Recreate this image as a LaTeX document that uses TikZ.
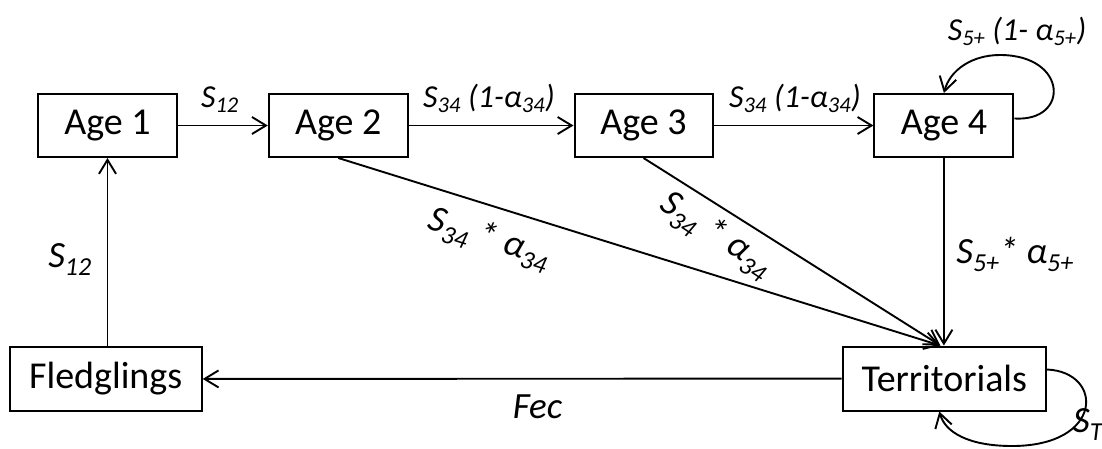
\documentclass[tikz,border=0pt]{standalone}
\usepackage{fontspec}
\setmainfont{Carlito}
\usetikzlibrary{arrows.meta}
\newcommand{\mysub}[1]{\textsubscript{#1}}
\begin{document}
\begin{tikzpicture}[x=1pt,y=-1pt,
  box/.style={draw,line width=2pt,inner sep=0pt,font=\fontsize{38}{44}\selectfont},
  conn/.style={line width=1.9pt,-{Straight Barb[length=14pt,width=17pt,line width=1.9pt]}},
  smalllab/.style={font=\fontsize{32}{36}\selectfont\itshape,inner sep=0pt},
  biglab/.style={font=\fontsize{37}{42}\selectfont\itshape,inner sep=0pt}]
\useasboundingbox (0,0) rectangle (1102,448);
\node[box,minimum width=139pt,minimum height=63pt] (a1) at (107.5,125.5) {Age 1};
\node[box,minimum width=139pt,minimum height=63pt] (a2) at (338.3,125.5) {Age 2};
\node[box,minimum width=138pt,minimum height=63pt] (a3) at (643.5,125.5) {Age 3};
\node[box,minimum width=139pt,minimum height=63pt] (a4) at (943.9,125.5) {Age 4};
\node[box,minimum width=192pt,minimum height=64pt] (fl) at (105.7,379) {Fledglings};
\node[box,minimum width=203.5pt,minimum height=64pt] (te) at (944.3,378.5) {Territorials};
\coordinate (tetop) at ([xshift=-4pt]te.north);
\coordinate (a4loop) at ([yshift=7pt]a4.east);
\coordinate (teloop) at ([yshift=9pt]te.east);
\coordinate (tebot) at ([xshift=-5pt]te.south);
% connectors
\draw[conn] (a1) -- (a2);
\draw[conn] (a2) -- (a3);
\draw[conn] (a3) -- (a4);
\draw[conn] (a1.south |- fl.north) -- (a1.south);
\draw[conn] (te) -- (fl);
\draw[conn] (a4) -- (a4 |- te.north);
\draw[conn] (a2.south) -- (tetop);
\draw[conn] (a3.south) -- (tetop);
\draw[conn] (a4loop) .. controls (1070,122) and (1068,55) .. (1000,55) .. controls (972,55) and (950,70) .. (a4.north);
\draw[conn] (teloop) .. controls (1104,372) and (1104,446) .. (1012,446) .. controls (968,446) and (945,432) .. (tebot);
% labels
\node[smalllab,anchor=base] (l1) at (220,107) {S\mysub{12}};
\node[smalllab,anchor=base] (l2) at (489,107) {S\mysub{34} (1-α\mysub{34})};
\node[smalllab,anchor=base] (l3) at (795,107) {S\mysub{34} (1-α\mysub{34})};
\node[smalllab,anchor=base] (l4) at (1017,40) {S\mysub{5+} (1- α\mysub{5+})};
\node[biglab,anchor=base] (l5) at (70,267) {S\mysub{12}};
\node[biglab,anchor=base] (l6) at (1015,263) {S\mysub{5+}* α\mysub{5+}};
\node[biglab,anchor=base] (l7) at (537.5,418) {Fec};
\node[biglab,anchor=base west] (l8) at (1073,432) {S\mysub{T}};
\node[biglab,rotate=-17.4] (l9) at (489,239) {S\mysub{34} * α\mysub{34}};
\node[biglab,rotate=-33] (l10) at (716,235) {S\mysub{34} * α\mysub{34}};
\end{tikzpicture}
\end{document}
